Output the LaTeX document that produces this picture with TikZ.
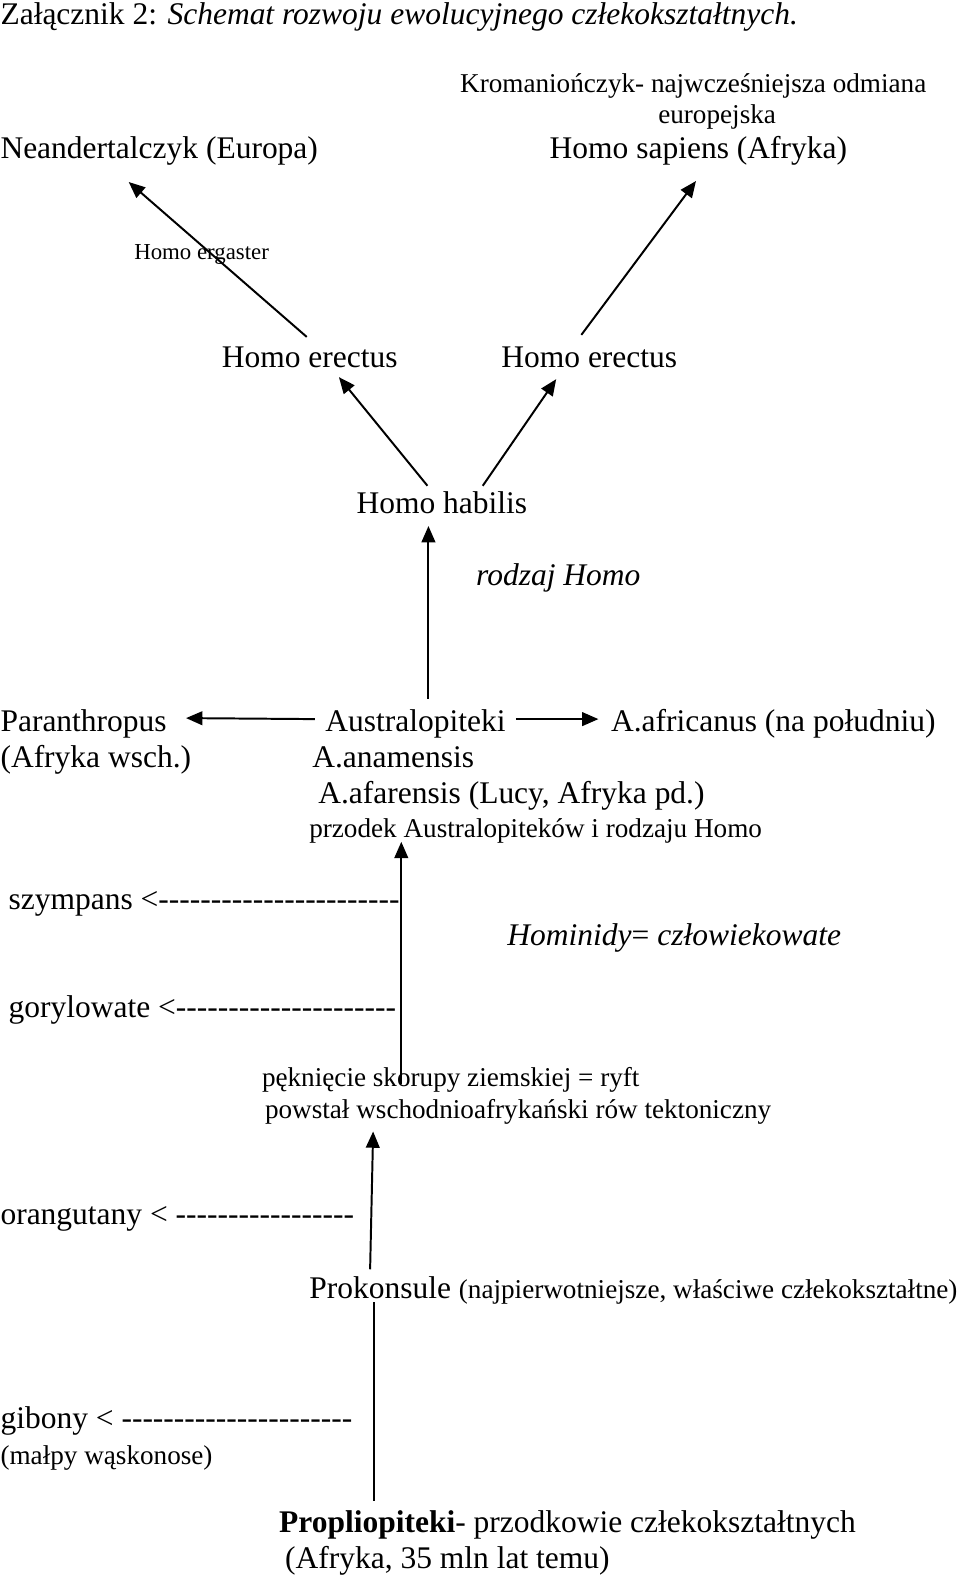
\documentclass[tikz,border=0pt]{standalone}
\usepackage{fontspec}
\setmainfont{Liberation Serif}
\usetikzlibrary{arrows.meta}
\newcommand\hyph[1]{\foreach \i in {1,...,#1}{-\kern0pt}}
\begin{document}
\begin{tikzpicture}[x=0.3832pt,y=-0.3832pt,
  txt/.style={anchor=base west,inner sep=0pt,font=\fontsize{12}{14}\selectfont},
  sml/.style={anchor=base west,inner sep=0pt,font=\fontsize{10.35}{12}\selectfont},
  arr/.style={line width=0.75pt,-{Triangle[length=6.2pt,width=5.2pt]}},
  ln/.style={line width=0.75pt}]
\useasboundingbox (0,0) rectangle (955,1568);
\node[txt] (title) at (0,24) {Załącznik 2: \textit{Schemat rozwoju ewolucyjnego człekokształtnych.}};
\node[sml] (krom) at (457,92) {Kromaniończyk- najwcześniejsza odmiana};
\node[sml] (euro) at (654,123) {europejska};
\node[txt] (nean) at (0,158) {Neandertalczyk (Europa)};
\node[txt] (sap) at (546,158) {Homo sapiens (Afryka)};
\node[anchor=base west,inner sep=0pt,font=\fontsize{8.7}{10}\selectfont] (erg) at (133,258) {Homo ergaster};
\node[txt] (er1) at (220,365) {Homo erectus};
\node[txt] (er2) at (498,365) {Homo erectus};
\node[txt] (hab) at (354,511) {Homo habilis};
\node[txt] (rodz) at (473,582) {\textit{rodzaj Homo}};
\node[txt] (para) at (0,727) {Paranthropus};
\node[txt] (para2) at (0,763) {(Afryka wsch.)};
\node[txt] (aus) at (323,727) {Australopiteki};
\node[txt] (afr) at (607,727) {A.africanus (na południu)};
\node[txt] (anam) at (310,763) {A.anamensis};
\node[txt] (afar) at (316,799) {A.afarensis (Lucy, Afryka pd.)};
\node[sml] (przo) at (307,833) {przodek Australopiteków i rodzaju Homo};
\node[txt] (szym) at (8,904) {szympans <\hyph{23}};
\node[txt] (homin) at (504,940) {\textit{Hominidy}= \textit{człowiekowate}};
\node[txt] (gor) at (8,1012) {gorylowate <\hyph{21}};
\node[sml] (pekn) at (260,1080) {pęknięcie skorupy ziemskiej = ryft};
\node[sml] (pows) at (263,1112) {powstał wschodnioafrykański rów tektoniczny};
\node[txt] (orang) at (0,1217) {orangutany < \hyph{17}};
\node[txt] (prok) at (307,1291) {Prokonsule {\fontsize{10.35}{12}\selectfont(najpierwotniejsze, właściwe człekokształtne)}};
\node[txt] (gib) at (0,1420) {gibony < \hyph{22}};
\node[sml] (malp) at (0,1456) {(małpy wąskonose)};
\node[txt] (prop) at (277,1524) {\textbf{Propliopiteki}- przodkowie człekokształtnych};
\node[txt] (prop2) at (283,1560) {(Afryka, 35 mln lat temu)};
% connector ends
\coordinate (a1s) at (305,335); \coordinate (a1e) at (128,181);
\coordinate (a2s) at (578,333); \coordinate (a2e) at (692,180);
\coordinate (a3s) at (425,483); \coordinate (a3e) at (337,375);
\coordinate (a4s) at (480,483); \coordinate (a4e) at (553,377);
\coordinate (a5s) at (426,695); \coordinate (a5e) at (426,523);
\coordinate (a6s) at (313,715); \coordinate (a6e) at (185,714);
\coordinate (a7s) at (513,715); \coordinate (a7e) at (595,715);
\coordinate (a8s) at (399,1078); \coordinate (a8e) at (399,837);
\coordinate (a9s) at (368,1262); \coordinate (a9e) at (371,1125);
\coordinate (l10s) at (372,1492); \coordinate (l10e) at (372,1295);
\draw[arr] (a1s) -- (a1e);
\draw[arr] (a2s) -- (a2e);
\draw[arr] (a3s) -- (a3e);
\draw[arr] (a4s) -- (a4e);
\draw[arr] (a5s) -- (a5e);
\draw[arr] (a6s) -- (a6e);
\draw[arr] (a7s) -- (a7e);
\draw[arr] (a8s) -- (a8e);
\draw[arr] (a9s) -- (a9e);
\draw[ln] (l10s) -- (l10e);
\end{tikzpicture}
\end{document}
